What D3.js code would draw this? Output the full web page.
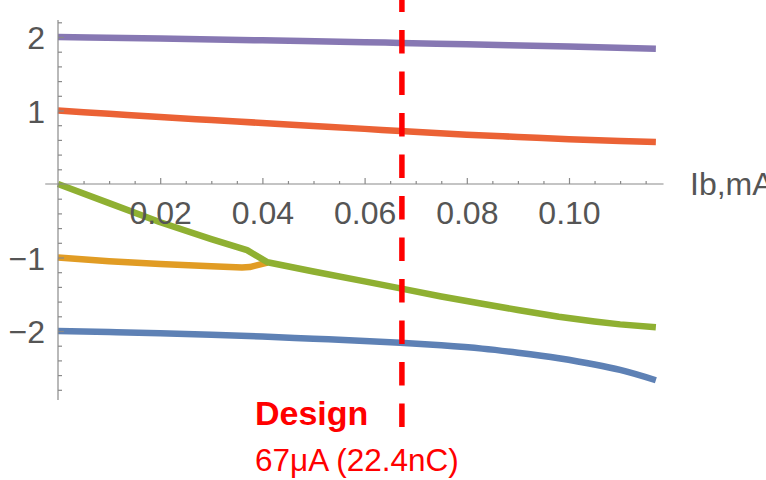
<!DOCTYPE html>
<html>
<head>
<meta charset="utf-8">
<script src="https://cdn.jsdelivr.net/npm/d3@7"></script>
<style>
  body { margin: 0; background: #fff; }
  svg { display: block; font-family: "Liberation Sans", Arial, sans-serif; }
</style>
</head>
<body>
<div id="chart"></div>
<script>
// curves, x in mA
var blueX = [0, 0.01, 0.02, 0.03, 0.04, 0.05, 0.06, 0.067, 0.075, 0.083, 0.09, 0.098, 0.105, 0.11, 0.117];
var blueY = [-2.0, -2.015, -2.03, -2.05, -2.075, -2.105, -2.135, -2.16, -2.195, -2.24, -2.295, -2.37, -2.455, -2.53, -2.67];

var orangeX = [0, 0.01, 0.02, 0.03, 0.036, 0.0375, 0.041];
var orangeY = [-1.0, -1.05, -1.09, -1.12, -1.135, -1.13, -1.07];

var greenX = [0, 0.01, 0.02, 0.03, 0.037, 0.041, 0.05, 0.06, 0.067, 0.075, 0.083, 0.09, 0.098, 0.105, 0.11, 0.117];
var greenY = [0, -0.26, -0.52, -0.75, -0.9, -1.065, -1.19, -1.325, -1.42, -1.53, -1.63, -1.715, -1.805, -1.87, -1.91, -1.95];

var redX = [0, 0.01, 0.02, 0.03, 0.04, 0.05, 0.06, 0.067, 0.08, 0.09, 0.1, 0.11, 0.117];
var redY = [1.0, 0.955, 0.91, 0.87, 0.83, 0.79, 0.75, 0.72, 0.67, 0.64, 0.61, 0.585, 0.57];

var purpleX = [0, 0.02, 0.04, 0.06, 0.067, 0.08, 0.1, 0.117];
var purpleY = [2.0, 1.98, 1.955, 1.93, 1.92, 1.9, 1.87, 1.84];

var xMajor = [0.02, 0.04, 0.06, 0.08, 0.10];
var yMajor = [-2, -1, 1, 2];
var designX = 0.0673;

var width = 766, height = 480;

var svg = d3.select("#chart")
    .append("svg")
    .attr("width", width)
    .attr("height", height);

var x = d3.scaleLinear().domain([0, 0.1]).range([58, 569]);
var y = d3.scaleLinear().domain([0, 2]).range([184, 37]);

var axisColor = "#8a8a8a";
var labelColor = "#555";

// curves (orange/green meet at a kink, so those two stay straight-segmented)
var smooth = d3.line()
    .x(function(d) { return x(d[0]); })
    .y(function(d) { return y(d[1]); })
    .curve(d3.curveMonotoneX);
var straight = d3.line()
    .x(function(d) { return x(d[0]); })
    .y(function(d) { return y(d[1]); });

var series = [
    [blueX, blueY, "#5E81B5", smooth],
    [orangeX, orangeY, "#E19C24", straight],
    [greenX, greenY, "#8FB032", straight],
    [redX, redY, "#EB6235", smooth],
    [purpleX, purpleY, "#8778B3", smooth]
];

series.forEach(function(s) {
    var pts = s[0].map(function(v, i) { return [v, s[1][i]]; });
    svg.append("path")
        .datum(pts)
        .attr("d", s[3])
        .attr("fill", "none")
        .attr("stroke", s[2])
        .attr("stroke-width", 6.5)
        .attr("stroke-linejoin", "round");
});

// axis lines
svg.append("line")
    .attr("x1", x(-0.0025)).attr("x2", x(0.1185))
    .attr("y1", y(0)).attr("y2", y(0))
    .attr("stroke", axisColor).attr("stroke-width", 1.2);
svg.append("line")
    .attr("x1", x(0)).attr("x2", x(0))
    .attr("y1", y(2.23)).attr("y2", y(-2.94))
    .attr("stroke", axisColor).attr("stroke-width", 1.2);

// x ticks
function i4(v) { return Math.round(v / 0.005); }
var xMinor = d3.range(1, 24).map(function(i) { return i * 0.005; })
    .filter(function(v) { return i4(v) % 4 != 0; });

var gxMinor = svg.append("g")
    .attr("transform", "translate(0," + y(0) + ")")
    .call(d3.axisBottom(x).tickValues(xMinor).tickSize(-3).tickFormat(""));
var gx = svg.append("g")
    .attr("transform", "translate(0," + y(0) + ")")
    .call(d3.axisBottom(x).tickValues(xMajor).tickSize(-6).tickPadding(17)
        .tickFormat(d3.format(".2f")));

// y ticks
var yMinor = d3.range(-14, 12).map(function(i) { return i * 0.2; })
    .filter(function(v) { return Math.abs(v - Math.round(v)) > 0.01; });
var gyMinor = svg.append("g")
    .attr("transform", "translate(" + x(0) + ",0)")
    .call(d3.axisLeft(y).tickValues(yMinor).tickSize(-4).tickFormat(""));
var gy = svg.append("g")
    .attr("transform", "translate(" + x(0) + ",0)")
    .call(d3.axisLeft(y).tickValues(yMajor).tickSize(-6).tickPadding(13)
        .tickFormat(d3.format("d")));

[gxMinor, gx, gyMinor, gy].forEach(function(g) {
    g.select(".domain").remove();
    g.selectAll("line").attr("stroke", axisColor).attr("stroke-width", 1.2);
    g.selectAll("text")
        .attr("fill", labelColor)
        .style("font-size", "32px")
        .style("font-family", "'Liberation Sans', Arial, sans-serif");
});
gy.selectAll("text").attr("dy", "0.36em");

svg.append("text")
    .attr("x", 690)
    .attr("y", 195)
    .attr("fill", labelColor)
    .style("font-size", "32px")
    .text("Ib,mA");

// design marker
svg.append("line")
    .attr("x1", x(designX)).attr("x2", x(designX))
    .attr("y1", 0).attr("y2", 432)
    .attr("stroke", "#ff0000")
    .attr("stroke-width", 5.5)
    .attr("stroke-dasharray", "23.5,18")
    .attr("stroke-dashoffset", 11.5);

svg.append("text")
    .attr("x", 255)
    .attr("y", 425)
    .attr("fill", "#ff0000")
    .style("font-size", "34px")
    .style("font-weight", "bold")
    .text("Design");

svg.append("text")
    .attr("x", 255)
    .attr("y", 471)
    .attr("fill", "#ff0000")
    .style("font-size", "31.5px")
    .text("67\u03bcA (22.4nC)");
</script>
</body>
</html>
